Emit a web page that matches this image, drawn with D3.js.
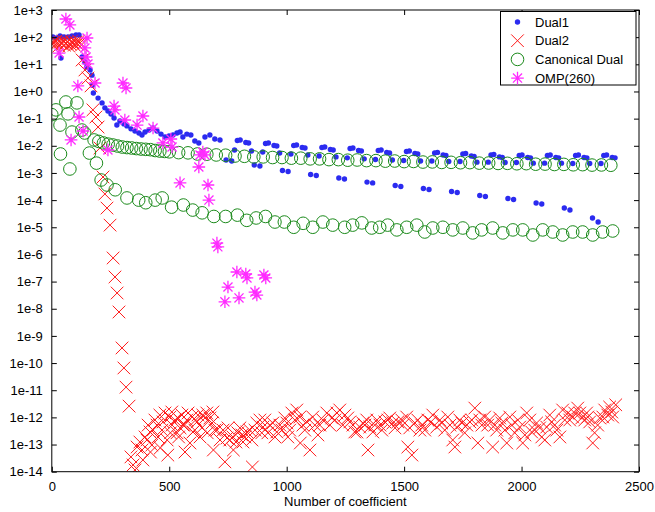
<!DOCTYPE html>
<html>
<head>
<meta charset="utf-8">
<script src="https://cdn.jsdelivr.net/npm/d3@7"></script>
<style>
body { margin: 0; background: #fff; }
</style>
</head>
<body>
<div id="chart"></div>
<script>
// Dual1: [coefficient, value]
var dual1 = [
    [5,101],[22,93],[35,110],[39,17],[52,101],[69,101],[86,110],[103,120],[116,120],[129,18.6],
    [141,12.2],[149,8.0],[163,6.2],[171,4.0],[173,1.7],[177,0.88],[197,0.57],[214,0.38],[226,0.25],[239,0.19],
    [252,0.148],[265,0.106],[277,0.058],[290,0.082],[307,0.064],[320,0.054],[337,0.042],[354,0.035],[371,0.0296],[384,0.025],
    [397,0.032],[414,0.038],[431,0.045],[448,0.035],[465,0.027],[482,0.021],[499,0.023],[516,0.025],[533,0.0296],[546,0.032],
    [558,0.021],[575,0.027],[592,0.025],[609,0.015],[626,0.0127],[652,0.021],[673,0.025],[694,0.0178],[716,0.0164],
    [742,3.0e-3],[766,2.75e-3],[778,7.0e-3],[790,1.57e-2],[802,1.64e-2],[826,1.32e-2],[838,1.27e-2],[850,6.4e-3],
    [862,1.96e-3],[886,1.8e-3],[898,5.9e-3],[910,1.22e-2],[922,1.27e-2],[946,1.03e-2],[958,9.8e-3],[970,5.4e-3],
    [982,1.23e-3],[1006,1.13e-3],[1018,5.0e-3],[1030,1.03e-2],[1042,1.07e-2],[1066,8.7e-3],[1078,8.3e-3],[1090,4.6e-3],
    [1102,8.8e-4],[1126,8.1e-4],[1138,4.2e-3],[1150,8.7e-3],[1162,9.0e-3],[1186,7.3e-3],[1198,7.0e-3],[1210,3.9e-3],
    [1222,6.5e-4],[1246,6.0e-4],[1258,3.6e-3],[1270,7.9e-3],[1282,8.3e-3],[1306,6.7e-3],[1318,6.4e-3],[1330,3.3e-3],
    [1342,4.6e-4],[1366,4.3e-4],[1378,3.13e-3],[1390,6.7e-3],[1402,7.0e-3],[1426,5.7e-3],[1438,5.4e-3],[1450,3.0e-3],
    [1462,3.45e-4],[1486,3.17e-4],[1498,2.88e-3],[1510,6.2e-3],[1522,6.4e-3],[1546,5.2e-3],[1558,5.0e-3],[1570,2.75e-3],
    [1582,2.68e-4],[1606,2.46e-4],[1618,2.75e-3],[1630,5.4e-3],[1642,5.7e-3],[1666,4.6e-3],[1678,4.4e-3],[1690,2.64e-3],
    [1702,2.07e-4],[1726,1.9e-4],[1738,2.64e-3],[1750,5.0e-3],[1762,5.2e-3],[1786,4.2e-3],[1798,4.04e-3],[1810,2.5e-3],
    [1822,1.48e-4],[1846,1.36e-4],[1858,2.5e-3],[1870,4.6e-3],[1882,4.8e-3],[1906,3.9e-3],[1918,3.7e-3],[1930,2.43e-3],
    [1942,1.15e-4],[1966,1.05e-4],[1978,2.43e-3],[1990,4.4e-3],[2002,4.6e-3],[2026,3.7e-3],[2038,3.6e-3],[2050,2.3e-3],
    [2062,7.8e-5],[2086,7.2e-5],[2098,2.3e-3],[2110,4.4e-3],[2122,4.6e-3],[2146,3.7e-3],[2158,3.6e-3],[2170,2.3e-3],
    [2182,5.1e-5],[2206,4.3e-5],[2218,2.23e-3],[2230,4.4e-3],[2242,4.6e-3],[2266,3.7e-3],[2278,3.6e-3],[2290,2.23e-3],
    [2302,2.2e-5],[2326,1.56e-5],[2338,2.23e-3],[2350,4.4e-3],[2362,4.6e-3],[2386,3.7e-3],[2398,3.6e-3]
];

// Dual2
var dual2 = [
    [0,56],[6,66],[12,51],[18,72],[24,61],[30,47],[36,66],[42,56],[48,72],[54,51],[60,61],
    [66,66],[72,47],[78,56],[84,72],[90,61],[96,51],[102,66],[108,56],[114,72],[120,61],[126,51],
    [129,14.4],[141,6.2],[154,3.1],[167,1.6],[175,0.21],[188,0.115],[197,0.049],[205,8.3e-3],[218,7.1e-4],[226,1.68e-4],
    [235,5.1e-5],[248,1.2e-5],[261,7.4e-7],[269,1.48e-7],[278,3.8e-8],[286,7.6e-9],[299,3.6e-10],[307,6.6e-11],[316,1.3e-11],[329,2.6e-12],
    [337,3.5e-14],[346,1.77e-14],[354,1.16e-14],[363,8.1e-14],[375,1.24e-13],[384,6.3e-14],[388,2.7e-14],[397,1.9e-13],[405,1.47e-13],[410,5.2e-13],
    [418,2.9e-13],[420,5.3e-14],[426,9.6e-14],[431,3.4e-13],[439,8.0e-13],[448,5.2e-13],[452,1.9e-13],[460,1.22e-12],[462,7.5e-14],[469,3.4e-13],
    [474,6.8e-13],[482,1.45e-12],[491,1.47e-13],[494,4.1e-14],[503,1.03e-12],[505,2.7e-13],[511,1.58e-12],[512,5.2e-13],[524,8.0e-13],[533,2.7e-13],
    [537,9.5e-13],[540,1.9e-13],[546,4.1e-13],[554,1.22e-12],[559,5.2e-13],[565,5.2e-13],[567,5.3e-14],[575,8.0e-13],[580,1.45e-12],[588,1.14e-13],
    [597,1.03e-12],[601,2.9e-13],[609,3.4e-13],[612,8.0e-13],[618,6.8e-13],[622,1.22e-12],[631,1.9e-13],[639,4.1e-13],[643,1.22e-12],[652,9.5e-13],
    [660,1.45e-12],[662,2.7e-13],[673,9.5e-13],[682,6.2e-13],[686,1.58e-12],[688,6.3e-14],[694,3.4e-13],[703,3.4e-13],[716,1.47e-13],[729,3.4e-13],
    [737,2.3e-14],[746,1.74e-13],[750,4.1e-13],[758,1.47e-13],[771,1.9e-13],[773,6.3e-14],[784,1.24e-13],[792,2.7e-13],[801,4.1e-13],[809,2.25e-13],
    [814,1.24e-13],[822,1.9e-13],[831,2.9e-13],[843,3.4e-13],[852,1.47e-13],[854,1.49e-14],[865,3.4e-13],[873,6.2e-13],[886,8.0e-13],[894,2.7e-13],
    [899,4.4e-13],[907,8.0e-13],[920,2.7e-13],[928,5.2e-13],[941,6.2e-13],[950,1.9e-13],[958,2.9e-13],[971,5.2e-13],[980,3.4e-13],[992,9.5e-13],
    [1001,6.2e-13],[1005,1.9e-13],[1013,3.4e-13],[1022,1.45e-12],[1035,8.0e-13],[1043,1.87e-12],[1056,1.03e-12],[1058,1.14e-13],[1069,5.2e-13],[1077,3.4e-13],
    [1086,6.8e-13],[1099,6.3e-14],[1111,1.03e-12],[1120,5.2e-13],[1133,2.25e-13],[1141,5.2e-13],[1154,8.0e-13],[1171,1.45e-12],[1184,5.2e-13],[1192,9.5e-13],
    [1205,8.0e-13],[1214,1.45e-12],[1226,1.87e-12],[1239,5.2e-13],[1248,1.22e-12],[1260,9.5e-13],[1269,6.8e-13],[1282,5.2e-13],[1290,2.9e-13],[1299,2.9e-13],
    [1311,4.4e-13],[1324,6.2e-13],[1333,5.2e-13],[1341,8.0e-13],[1346,6.3e-14],[1354,4.4e-13],[1367,2.9e-13],[1375,5.2e-13],[1384,8.0e-13],[1397,5.2e-13],
    [1405,3.4e-13],[1418,6.8e-13],[1431,8.0e-13],[1439,9.5e-13],[1452,6.2e-13],[1461,4.1e-13],[1473,6.8e-13],[1490,8.0e-13],[1494,5.2e-13],[1511,1.03e-12],
    [1516,8.1e-14],[1524,4.1e-13],[1533,4.1e-14],[1546,6.2e-13],[1558,8.0e-13],[1567,3.4e-13],[1575,5.2e-13],[1588,3.4e-13],[1601,8.0e-13],[1614,6.8e-13],
    [1622,1.22e-12],[1639,4.4e-13],[1652,8.0e-13],[1660,6.2e-13],[1673,3.4e-13],[1686,1.03e-12],[1695,5.2e-13],[1707,1.47e-13],[1716,8.1e-14],[1724,4.4e-13],
    [1737,8.0e-13],[1746,6.2e-13],[1758,2.7e-13],[1767,5.2e-13],[1780,6.8e-13],[1788,8.0e-13],[1801,2.2e-12],[1814,1.14e-13],[1822,8.0e-13],[1831,5.2e-13],
    [1843,1.03e-12],[1856,5.2e-13],[1864,8.0e-13],[1877,8.1e-14],[1886,5.2e-13],[1894,3.4e-13],[1907,9.5e-13],[1916,6.2e-13],[1929,3.4e-13],[1937,1.14e-13],
    [1950,1.03e-12],[1958,5.2e-13],[1971,2.7e-13],[1984,8.0e-13],[1992,4.4e-13],[2005,1.14e-13],[2014,2.25e-13],[2022,1.45e-12],[2035,8.0e-13],[2043,2.9e-13],
    [2056,3.4e-13],[2064,6.2e-13],[2077,4.1e-13],[2086,1.9e-13],[2099,1.47e-13],[2107,4.4e-13],[2120,1.22e-12],[2128,6.8e-13],[2141,5.2e-13],[2150,3.4e-13],
    [2163,1.9e-13],[2175,1.87e-12],[2184,8.0e-13],[2197,1.45e-12],[2205,8.0e-13],[2218,1.03e-12],[2226,1.45e-12],[2239,2.2e-12],[2248,1.45e-12],[2256,9.5e-13],
    [2269,8.0e-13],[2277,1.45e-12],[2282,1.03e-12],[2290,6.8e-13],[2303,1.14e-13],[2311,2.7e-13],[2324,5.2e-13],[2333,9.5e-13],[2346,1.03e-12],[2354,1.87e-12],
    [2367,1.22e-12],[2375,2.4e-12],[2384,1.58e-12],[2388,1.03e-12],[2401,2.9e-12]
];

// Canonical Dual
var canonical = [
    [0,0.14],[18,0.21],[35,0.058],[37,5.0e-3],[60,0.41],[69,0.15],[77,1.4e-3],[86,0.032],[107,0.38],[128,0.038],
    [140,2.96e-2],[180,1.64e-2],[200,1.45e-2],[220,1.27e-2],[240,1.15e-2],[260,1.07e-2],[280,9.8e-3],[300,9.0e-3],[320,8.6e-3],[340,8.3e-3],
    [360,7.9e-3],[380,7.6e-3],[400,7.4e-3],[420,7.2e-3],[440,6.7e-3],[460,6.4e-3],[480,6.2e-3],[500,6.0e-3],
    [540,5.6e-3],[580,5.5e-3],[620,5.0e-3],[660,4.9e-3],[700,4.6e-3],[740,4.5e-3],[780,4.2e-3],[820,4.1e-3],[860,3.9e-3],[900,3.9e-3],
    [940,3.7e-3],[980,3.7e-3],[1020,3.5e-3],[1060,3.5e-3],[1100,3.3e-3],[1140,3.3e-3],[1180,3.1e-3],[1220,3.1e-3],[1260,2.95e-3],[1300,3.0e-3],
    [1340,2.85e-3],[1380,2.85e-3],[1420,2.72e-3],[1460,2.75e-3],[1500,2.62e-3],[1540,2.65e-3],[1580,2.52e-3],[1620,2.55e-3],[1660,2.44e-3],[1700,2.46e-3],
    [1740,2.38e-3],[1780,2.4e-3],[1820,2.3e-3],[1860,2.32e-3],[1900,2.24e-3],[1940,2.26e-3],[1980,2.18e-3],[2020,2.2e-3],[2060,2.1e-3],[2100,2.12e-3],
    [2140,2.05e-3],[2180,2.07e-3],[2220,2.0e-3],[2260,2.02e-3],[2300,1.95e-3],[2340,1.97e-3],[2380,1.92e-3],
    [160,5.4e-3],[190,2.3e-3],[210,5.5e-4],[235,3.6e-4],[270,2.4e-4],[320,1.2e-4],[370,1.0e-4],[400,8.0e-5],[440,1.0e-4],[470,1.2e-4],
    [510,5.5e-5],[560,6.6e-5],[600,4.3e-5],[640,3.4e-5],[690,2.5e-5],[740,2.5e-5],[790,2.8e-5],[830,1.8e-5],[870,2.2e-5],[910,2.5e-5],
    [950,1.56e-5],[990,1.56e-5],[1030,1.0e-5],[1070,1.4e-5],[1111,1.0e-5],[1154,1.56e-5],[1196,1.2e-5],[1247,1.0e-5],[1281,1.2e-5],[1320,1.45e-5],
    [1362,9.4e-6],[1396,1.0e-5],[1430,1.2e-5],[1469,8.0e-6],[1511,1.0e-5],[1554,1.2e-5],[1588,6.7e-6],[1622,9.4e-6],[1665,1.0e-5],[1707,8.0e-6],
    [1750,9.4e-6],[1792,6.2e-6],[1830,8.0e-6],[1877,9.4e-6],[1920,6.2e-6],[1963,8.0e-6],[2005,8.0e-6],[2048,5.2e-6],[2090,8.0e-6],[2133,6.7e-6],
    [2175,5.2e-6],[2218,6.7e-6],[2260,6.7e-6],[2303,5.2e-6],[2345,6.7e-6],[2388,7.3e-6]
];

// OMP(260)
var omp = [
    [31,26],[60,467],[77,281],[82,1.64e-2],[111,1.6],[116,0.115],[133,0.035],[141,40],[146,18.6],[150,93],
    [154,10.3],[184,2.05],[239,7.0e-3],[265,0.29],[269,0.21],[303,2.05],[311,0.089],[316,1.34],[363,0.058],[388,0.125],
    [431,0.045],[473,1.27e-2],[507,1.78e-2],[512,9.0e-3],[546,4.3e-4],[626,1.66e-3],[631,4.6e-3],[643,5.9e-3],[652,4.6e-3],[665,3.6e-4],
    [669,1.0e-4],[703,2.6e-6],[707,1.9e-6],[737,1.8e-8],[750,6.3e-8],[788,2.25e-7],[797,2.5e-8],[826,1.9e-7],[831,1.36e-7],[865,4.1e-8],
    [873,3.2e-8],[903,1.75e-7],[911,1.36e-7]
];

var xTicks = [0, 500, 1000, 1500, 2000, 2500];
var yTicks = [1e3, 1e2, 1e1, 1e0, 1e-1, 1e-2, 1e-3, 1e-4, 1e-5, 1e-6, 1e-7, 1e-8, 1e-9, 1e-10, 1e-11, 1e-12, 1e-13, 1e-14];
var yTickLabels = ["1e+3", "1e+2", "1e+1", "1e+0", "1e-1", "1e-2", "1e-3", "1e-4", "1e-5", "1e-6", "1e-7",
    "1e-8", "1e-9", "1e-10", "1e-11", "1e-12", "1e-13", "1e-14"];
var seriesNames = ["Dual1", "Dual2", "Canonical Dual", "OMP(260)"];
var xLabel = "Number of coefficient";

var colors = ["#2b2bf0", "#ff1a1a", "#1b8a1b", "#ff2bff"];

// set the dimensions and margins of the graph
var margin = {
        top: 10,
        right: 16,
        bottom: 40.3,
        left: 51.8
    },
    width = 655 - margin.left - margin.right,
    height = 512 - margin.top - margin.bottom;

var svg = d3.select("#chart")
    .append("svg")
    .attr("width", 655)
    .attr("height", 512)
    .style("font-family", "'Liberation Sans', Arial, Helvetica, sans-serif");

var g = svg.append("g")
    .attr("transform", "translate(" + margin.left + "," + margin.top + ")");

var x = d3.scaleLinear()
    .domain([0, 2500])
    .range([0, width]);

var y = d3.scaleLog()
    .domain([1e-14, 1e3])
    .range([height, 0]);

var dotR = 2.7, markS = 6.3;

// marker shapes
function crossPath(s) {
    return "M" + (-s) + "," + (-s) + "L" + s + "," + s + "M" + (-s) + "," + s + "L" + s + "," + (-s);
}

function starPath(s) {
    var d = s * 0.72;
    return "M" + (-s) + ",0L" + s + ",0M0," + (-s) + "L0," + s +
        "M" + (-d) + "," + (-d) + "L" + d + "," + d + "M" + (-d) + "," + d + "L" + d + "," + (-d);
}

g.append("clipPath")
    .attr("id", "plotclip")
    .append("rect")
    .attr("width", width)
    .attr("height", height);

var plot = g.append("g").attr("clip-path", "url(#plotclip)");

// Dual1 dots
plot.selectAll(".dot1").data(dual1)
    .enter()
    .append("circle")
    .attr("class", "dot1")
    .attr("cx", function(d) { return x(d[0]); })
    .attr("cy", function(d) { return y(d[1]); })
    .attr("r", dotR)
    .style("fill", colors[0]);

// Dual2 crosses
plot.selectAll(".cross2").data(dual2)
    .enter()
    .append("path")
    .attr("class", "cross2")
    .attr("transform", function(d) { return "translate(" + x(d[0]) + "," + y(d[1]) + ")"; })
    .attr("d", crossPath(markS))
    .attr("fill", "none")
    .attr("stroke", colors[1])
    .attr("stroke-width", 1);

// Canonical dual circles
plot.selectAll(".ring3").data(canonical)
    .enter()
    .append("circle")
    .attr("class", "ring3")
    .attr("cx", function(d) { return x(d[0]); })
    .attr("cy", function(d) { return y(d[1]); })
    .attr("r", markS)
    .attr("fill", "none")
    .attr("stroke", colors[2])
    .attr("stroke-width", 1);

// OMP stars
plot.selectAll(".star4").data(omp)
    .enter()
    .append("path")
    .attr("class", "star4")
    .attr("transform", function(d) { return "translate(" + x(d[0]) + "," + y(d[1]) + ")"; })
    .attr("d", starPath(markS))
    .attr("fill", "none")
    .attr("stroke", colors[3])
    .attr("stroke-width", 1.3);

// axes
var fontSize = "13px";

g.append("g")
    .attr("transform", "translate(0," + height + ")")
    .call(d3.axisBottom(x).tickValues(xTicks).tickSize(-5).tickPadding(10).tickFormat(d3.format("d")))
    .call(function(a) { a.select(".domain").remove(); })
    .selectAll("text").style("font-size", fontSize).attr("fill", "#000");

g.append("g")
    .call(d3.axisTop(x).tickValues(xTicks).tickSize(-5).tickFormat(""))
    .call(function(a) { a.select(".domain").remove(); });

g.append("g")
    .call(d3.axisLeft(y).tickValues(yTicks).tickSize(-5).tickPadding(9)
        .tickFormat(function(d, i) { return yTickLabels[i]; }))
    .call(function(a) { a.select(".domain").remove(); })
    .selectAll("text").style("font-size", fontSize).attr("fill", "#000");

g.append("g")
    .attr("transform", "translate(" + width + ",0)")
    .call(d3.axisRight(y).tickValues(yTicks).tickSize(-5).tickFormat(""))
    .call(function(a) { a.select(".domain").remove(); });

g.selectAll(".tick line").attr("stroke", "#000");

g.append("rect")
    .attr("x", 0)
    .attr("y", 0)
    .attr("width", width)
    .attr("height", height)
    .attr("fill", "none")
    .attr("stroke", "#000")
    .attr("stroke-width", 1);

g.append("text")
    .attr("x", width / 2)
    .attr("y", height + 34)
    .attr("text-anchor", "middle")
    .style("font-size", fontSize)
    .text(xLabel);

// legend
var legend = svg.append("g").attr("transform", "translate(500.5,11.5)");

legend.append("rect")
    .attr("width", 135.5)
    .attr("height", 73.5)
    .attr("fill", "#fff")
    .attr("stroke", "#000")
    .attr("stroke-width", 1);

var rows = legend.selectAll(".row").data(seriesNames)
    .enter()
    .append("g")
    .attr("class", "row")
    .attr("transform", function(d, i) { return "translate(0," + (10.5 + i * 18.7) + ")"; });

rows.append("text")
    .attr("x", 34.5)
    .attr("dy", "0.35em")
    .style("font-size", fontSize)
    .text(function(d) { return d; });

rows.each(function(d, i) {
    var r = d3.select(this);
    if (i === 0) {
        r.append("circle").attr("cx", 17).attr("r", dotR).style("fill", colors[0]);
    } else if (i === 1) {
        r.append("path").attr("transform", "translate(17,0)").attr("d", crossPath(markS))
            .attr("fill", "none").attr("stroke", colors[1]);
    } else if (i === 2) {
        r.append("circle").attr("cx", 17).attr("r", markS)
            .attr("fill", "none").attr("stroke", colors[2]);
    } else {
        r.append("path").attr("transform", "translate(17,0)").attr("d", starPath(markS))
            .attr("fill", "none").attr("stroke", colors[3]).attr("stroke-width", 1.3);
    }
});
</script>
</body>
</html>
